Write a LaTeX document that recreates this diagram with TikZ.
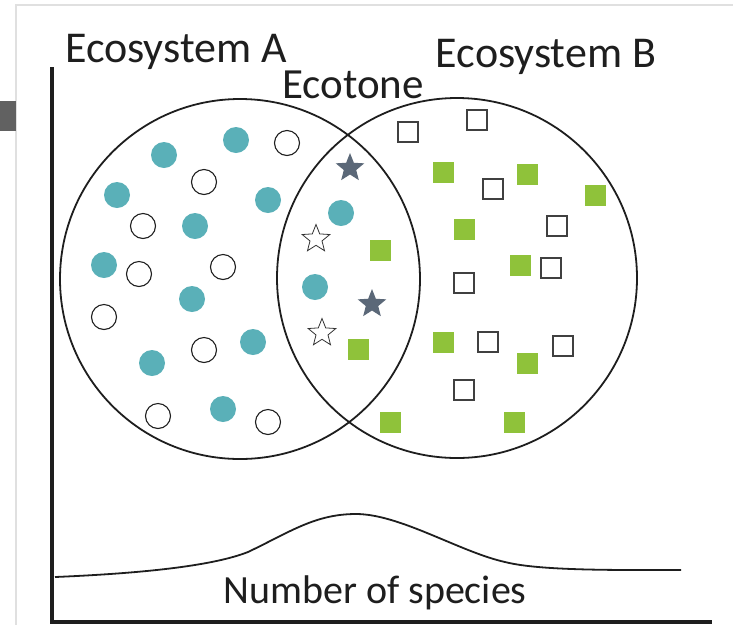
\documentclass[tikz,border=0pt]{standalone}
\usepackage{fontspec}
\setmainfont{Carlito}
\usetikzlibrary{shapes.geometric}

\definecolor{tealdot}{HTML}{5AB0B8}
\definecolor{leafgreen}{HTML}{8FC23A}
\definecolor{slatestar}{HTML}{5B6878}
\definecolor{inkline}{HTML}{1E1E1E}

\begin{document}
\begin{tikzpicture}[x=1pt,y=-1pt,
    eco_circle/.style={circle,draw=inkline,line width=1.8pt,minimum size=360,inner sep=0pt},
    teal_dot/.style={circle,fill=tealdot,minimum size=26,inner sep=0pt},
    open_dot/.style={circle,draw=inkline,line width=1.1pt,fill=white,minimum size=25,inner sep=0pt},
    green_sq/.style={rectangle,fill=leafgreen,minimum size=21,inner sep=0pt},
    open_sq/.style={rectangle,draw=black!75,line width=1.1pt,fill=white,minimum size=20,inner sep=0pt},
    dark_star/.style={star,star points=5,star point ratio=2.3,fill=slatestar,minimum size=30,inner sep=0pt},
    open_star/.style={star,star points=5,star point ratio=2.3,draw=black!80,line width=0.8pt,fill=white,minimum size=29,inner sep=0pt},
    label_text/.style={font=\fontsize{44}{50}\selectfont,text=inkline,anchor=base,inner sep=0pt}]

    \useasboundingbox (0,0) rectangle (733,625);

    % screenshot edge
    \draw[black!12,line width=1.2pt] (16,625) -- (16,5) -- (733,5);
    \fill[black!62] (0,101) rectangle (16,131);

    % the two ecosystems
    \node[eco_circle] (ecoA) at (240,279) {};
    \node[eco_circle] (ecoB) at (457,278) {};

    \node[label_text] (labA) at (176,62) {Ecosystem A};
    \node[label_text] (labB) at (546,67) {Ecosystem B};
    \node[label_text,font=\fontsize{43}{50}\selectfont] (labE) at (353,98) {Ecotone};

    % species of ecosystem A
    \node[teal_dot] (t1) at (236,140) {};
    \node[teal_dot] (t2) at (164,155) {};
    \node[teal_dot] (t3) at (117,195) {};
    \node[teal_dot] (t4) at (268,200) {};
    \node[teal_dot] (t5) at (195,226) {};
    \node[teal_dot] (t6) at (104,265) {};
    \node[teal_dot] (t7) at (192,299) {};
    \node[teal_dot] (t8) at (253,342) {};
    \node[teal_dot] (t9) at (152,363) {};
    \node[teal_dot] (t10) at (223,409) {};
    \node[teal_dot] (t11) at (341,213) {};
    \node[teal_dot] (t12) at (315,287) {};

    \node[open_dot] (o1) at (287,143) {};
    \node[open_dot] (o2) at (204,182) {};
    \node[open_dot] (o3) at (143,226) {};
    \node[open_dot] (o4) at (139,274) {};
    \node[open_dot] (o5) at (223,267) {};
    \node[open_dot] (o6) at (104,317) {};
    \node[open_dot] (o7) at (204,350) {};
    \node[open_dot] (o8) at (158,416) {};
    \node[open_dot] (o9) at (268,422) {};

    % ecotone species
    \node[dark_star] (k1) at (350,168) {};
    \node[dark_star] (k2) at (372,304) {};
    \node[open_star] (w1) at (316,239) {};
    \node[open_star] (w2) at (322,333) {};

    % species of ecosystem B
    \node[green_sq] (g1) at (443,172) {};
    \node[green_sq] (g2) at (527,174) {};
    \node[green_sq] (g3) at (595,195) {};
    \node[green_sq] (g4) at (464,229) {};
    \node[green_sq] (g5) at (380,250) {};
    \node[green_sq] (g6) at (520,265) {};
    \node[green_sq] (g7) at (358,349) {};
    \node[green_sq] (g8) at (443,342) {};
    \node[green_sq] (g9) at (527,363) {};
    \node[green_sq] (g10) at (390,422) {};
    \node[green_sq] (g11) at (514,422) {};

    \node[open_sq] (s1) at (408,132) {};
    \node[open_sq] (s2) at (477,120) {};
    \node[open_sq] (s3) at (493,189) {};
    \node[open_sq] (s4) at (557,226) {};
    \node[open_sq] (s5) at (551,268) {};
    \node[open_sq] (s6) at (464,283) {};
    \node[open_sq] (s7) at (488,342) {};
    \node[open_sq] (s8) at (563,346) {};
    \node[open_sq] (s9) at (464,390) {};

    % species curve and axes
    \draw[inkline,line width=1.8pt]
      (55,577) .. controls (150,573) and (215,565) .. (248,552)
      .. controls (290,532) and (315,514) .. (356,514)
      .. controls (400,514) and (460,552) .. (505,562)
      .. controls (540,571) and (620,570) .. (681,570);
    \node[label_text,font=\fontsize{40}{46}\selectfont] (labN) at (375,603) {Number of species};

    \draw[inkline,line width=3.5pt] (52,67) -- (52,622) -- (712,622);
\end{tikzpicture}
\end{document}
